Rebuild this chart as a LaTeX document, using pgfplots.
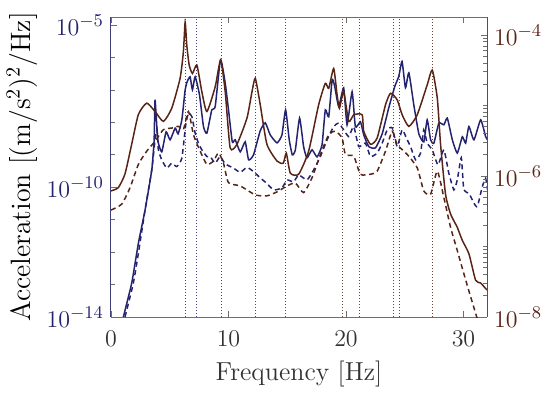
\documentclass[border=0pt]{standalone}
\usepackage{pgfplots}
\pgfplotsset{compat=1.18}
\definecolor{navy}{RGB}{35,35,112}
\definecolor{brn}{RGB}{88,36,22}
\definecolor{frm}{RGB}{110,110,110}
\definecolor{lbl}{RGB}{50,50,50}

\pgfplotstableread{
x y
0 6.15e-7
0.62 6.84e-7
1.19 1.07e-6
1.76 2.82e-6
2.33 7.46e-6
3.04 1.08e-5
3.75 8.22e-6
4.46 5.96e-6
5.17 9.16e-6
5.88 2.43e-5
6.16 5.77e-5
6.31 1.52e-4
6.45 7.16e-5
6.65 3.78e-5
6.93 2.85e-5
7.31 3.74e-5
7.73 1.57e-5
8.16 8.22e-6
8.87 1.85e-5
9.33 4.41e-5
9.72 1.57e-5
10.14 2.51e-6
10.72 2.82e-6
11.57 6.62e-6
12.00 1.57e-5
12.28 2.43e-5
12.70 1.03e-5
13.27 2.82e-6
14.13 1.63e-6
14.66 1.52e-6
14.92 2.11e-6
15.26 1.10e-6
15.97 1.06e-6
16.82 2.25e-6
17.67 1.02e-5
18.24 2.06e-5
18.53 1.75e-5
18.95 3.35e-5
19.24 1.42e-5
19.44 9.16e-6
19.80 1.57e-5
20.23 5.96e-6
20.66 7.39e-6
21.37 7.39e-6
21.51 4.31e-6
22.08 2.82e-6
22.65 3.46e-6
23.36 1.02e-5
23.79 1.49e-5
24.36 1.20e-5
24.78 7.39e-6
25.35 5.06e-6
26.06 7.39e-6
26.91 1.96e-5
27.34 3.18e-5
27.77 1.27e-5
28.05 2.79e-6
28.47 5.52e-7
28.90 2.89e-7
29.47 1.87e-7
29.90 1.22e-7
30.46 7.89e-8
31.03 3.32e-8
31.46 3.04e-8
31.88 2.54e-8
32.05 2.40e-8
}\brownsolid

\pgfplotstableread{
x y
0 3.29e-7
0.91 3.99e-7
1.62 6.84e-7
2.33 1.46e-6
3.04 2.25e-6
3.75 3.11e-6
4.46 4.55e-6
5.17 4.79e-6
5.74 5.06e-6
6.16 4.55e-6
6.59 8.22e-6
7.02 3.86e-6
7.59 2.25e-6
8.16 1.46e-6
8.72 1.63e-6
9.15 2.13e-6
9.57 1.52e-6
10.00 8.05e-7
11.00 7.23e-7
12.28 5.40e-7
13.27 5.23e-7
14.13 5.96e-7
14.98 7.23e-7
15.69 7.96e-7
16.39 5.82e-7
17.11 9.46e-7
17.82 2.02e-6
18.53 3.86e-6
19.10 4.31e-6
19.67 3.46e-6
19.95 2.02e-6
20.66 1.91e-6
21.23 1.06e-6
22.08 1.06e-6
22.65 1.17e-6
23.36 2.25e-6
23.93 4.31e-6
24.36 2.79e-6
25.21 2.02e-6
26.06 1.31e-6
26.62 6.15e-7
27.20 5.52e-7
27.77 1.17e-6
28.33 4.94e-7
28.90 1.87e-7
29.47 8.79e-8
30.03 4.12e-8
30.61 1.93e-8
31.03 1.13e-8
31.20 9.1e-9
}\browndashed

\pgfplotstableread{
x y
1.05 1.0e-14
1.76 1.10e-13
2.33 1.88e-12
2.90 2.00e-11
3.47 3.44e-10
3.67 2.90e-9
3.75 4.99e-8
3.98 2.90e-9
4.32 1.24e-9
4.69 5.13e-9
5.03 2.90e-9
5.46 6.67e-9
5.71 4.45e-9
6.03 1.20e-8
6.31 1.01e-7
6.48 1.79e-7
6.73 2.55e-7
6.93 1.01e-7
7.16 2.55e-7
7.53 7.11e-8
7.87 7.46e-9
8.16 4.68e-9
8.58 2.45e-8
8.87 3.10e-8
9.32 8.55e-7
9.72 1.63e-7
10.00 2.45e-8
10.32 2.52e-9
10.57 2.90e-9
11.00 1.24e-9
11.42 2.52e-9
11.71 7.02e-10
12.13 1.0e-9
12.70 5.51e-9
13.13 9.72e-9
13.55 4.14e-9
14.13 2.34e-9
14.55 4.14e-9
14.86 2.45e-8
15.17 2.90e-9
15.43 1.0e-9
15.69 1.43e-9
16.05 1.36e-8
16.39 1.80e-9
16.68 8.07e-10
17.11 1.43e-9
17.54 8.67e-10
17.96 2.04e-9
18.24 2.45e-8
18.53 1.49e-8
18.82 2.07e-7
19.04 1.28e-7
19.38 3.10e-8
19.80 1.17e-7
20.09 8.43e-9
20.52 8.79e-8
20.80 7.31e-9
21.23 1.04e-8
21.51 4.14e-9
21.94 1.80e-9
22.51 1.64e-9
23.08 4.45e-9
23.64 2.83e-8
24.15 1.28e-7
24.49 2.61e-7
24.77 7.59e-7
25.06 1.17e-7
25.35 3.40e-7
25.77 3.49e-8
26.20 4.45e-9
26.62 2.52e-9
26.91 1.20e-8
27.20 2.90e-9
27.48 2.30e-9
27.90 9.51e-9
28.33 8.43e-9
28.62 1.36e-8
29.05 2.90e-9
29.47 1.13e-9
29.90 3.60e-9
30.18 2.30e-9
30.46 7.46e-9
30.89 2.90e-9
31.46 1.20e-8
31.88 3.67e-9
32.05 2.90e-9
}\bluesolid

\pgfplotstableread{
x y
1.19 1.0e-14
1.90 1.10e-13
2.33 9.25e-13
2.90 2.00e-11
3.47 3.44e-10
3.75 2.90e-9
3.92 5.92e-9
4.03 1.43e-9
4.32 7.02e-10
4.75 3.89e-10
5.17 5.55e-10
5.60 4.35e-10
6.03 7.91e-10
6.36 8.43e-9
6.59 1.94e-8
6.88 1.52e-8
7.16 4.68e-9
7.44 2.30e-9
7.73 1.43e-9
8.16 8.87e-10
8.44 8.87e-10
8.87 5.55e-10
9.29 8.87e-10
9.72 5.27e-10
10.43 3.89e-10
11.00 2.88e-10
11.57 4.11e-10
12.13 3.05e-10
12.70 1.95e-10
13.21 1.37e-10
13.84 8.32e-11
14.55 9.57e-11
14.98 1.69e-10
15.54 1.47e-10
15.97 2.41e-10
16.68 1.69e-10
17.25 3.44e-10
17.82 8.87e-10
18.39 2.90e-9
18.95 7.46e-9
19.38 9.51e-9
19.80 5.92e-9
20.23 3.67e-9
20.66 7.46e-9
21.08 1.80e-9
21.65 2.30e-9
22.08 8.87e-10
22.65 1.13e-9
23.08 2.30e-9
23.51 5.92e-9
23.93 6.81e-9
24.36 1.80e-9
24.78 5.92e-9
25.21 2.90e-9
25.49 1.80e-9
25.92 7.02e-10
26.34 1.13e-9
26.62 5.92e-9
26.91 2.30e-9
27.34 1.43e-9
27.83 4.91e-10
28.33 1.43e-9
28.75 2.72e-10
29.18 8.32e-11
29.47 1.69e-10
29.81 8.07e-10
30.03 8.32e-11
30.46 6.58e-11
30.89 3.23e-11
31.18 2.54e-11
31.60 1.05e-10
31.88 1.91e-10
32.05 8.32e-11
}\bluedashed

\pgfplotsset{
  vl/.style={line width=0.5pt, dash pattern=on 0.7pt off 0.8pt, forget plot},
}

\begin{document}
\begin{tikzpicture}
\path[use as bounding box] (0,0) rectangle (275pt,196pt);
\begin{axis}[
  at={(55.5pt,37.5pt)}, anchor=south west,
  scale only axis, width=188pt, height=150pt,
  xmin=0, xmax=32,
  ymode=log, ymin=1e-14, ymax=1.778e-5,
  axis y line*=left,
  xtick={0,10,20,30},
  ytick={1e-14,1e-10,1e-5},
  minor ytick={1e-13,1e-12,1e-11,1e-9,1e-8,1e-7,1e-6},
  tick align=inside,
  major tick length=3pt, minor tick length=2pt,
  axis line style={frm, line width=0.5pt},
  y axis line style={navy!70!gray},
  every tick/.style={frm, line width=0.4pt},
  xticklabel style={font=\fontsize{12.5}{14}\selectfont, text=lbl, yshift=-3.5pt},
  yticklabel style={font=\fontsize{13}{15}\selectfont, text=navy},
  xlabel={Frequency [Hz]},
  ylabel={Acceleration [(m/s$^2$)$^2$/Hz]},
  xlabel style={at={(axis description cs:0.5,-0.19)}, anchor=center, font=\fontsize{13}{15}\selectfont, text=lbl},
  ylabel style={at={(axis description cs:-0.237,0.5)}, anchor=center, font=\fontsize{14}{16}\selectfont, text=black},
]
\addplot[navy!85!white, vl] coordinates {(6.31,1e-14) (6.31,1e-4)};
\addplot[navy!85!white, vl] coordinates {(7.25,1e-14) (7.25,1e-4)};
\addplot[navy!85!white, vl] coordinates {(9.38,1e-14) (9.38,1e-4)};
\addplot[navy!85!white, vl] coordinates {(14.83,1e-14) (14.83,1e-4)};
\addplot[navy!85!white, vl] coordinates {(24.04,1e-14) (24.04,1e-4)};
\addplot[navy!85!white, vl] coordinates {(24.55,1e-14) (24.55,1e-4)};
\addplot[navy, line width=0.75pt, smooth, tension=0.3] table[x=x,y=y] {\bluesolid};
\addplot[navy, line width=0.75pt, smooth, tension=0.3, dash pattern=on 2.5pt off 1.8pt] table[x=x,y=y] {\bluedashed};
\end{axis}
\begin{axis}[
  at={(55.5pt,37.5pt)}, anchor=south west,
  scale only axis, width=188pt, height=150pt,
  xmin=0, xmax=32,
  ymode=log, ymin=1e-8, ymax=1.8e-4,
  axis x line=none,
  axis y line*=right,
  ytick={1e-8,1e-6,1e-4},
  minor ytick={2e-8,3e-8,4e-8,5e-8,6e-8,7e-8,8e-8,9e-8,1e-7,2e-7,3e-7,4e-7,5e-7,6e-7,7e-7,8e-7,9e-7,2e-6,3e-6,4e-6,5e-6,6e-6,7e-6,8e-6,9e-6,1e-5,2e-5,3e-5,4e-5,5e-5,6e-5,7e-5,8e-5,9e-5},
  tick align=inside,
  major tick length=3pt, minor tick length=2pt,
  axis line style={brn!60!gray, line width=0.5pt},
  every tick/.style={frm, line width=0.4pt},
  yticklabel style={font=\fontsize{13}{15}\selectfont, text=brn},
]
\addplot[brn!85!white, vl] coordinates {(12.28,1e-8) (12.28,1e-3)};
\addplot[brn!85!white, vl] coordinates {(19.69,1e-8) (19.69,1e-3)};
\addplot[brn!85!white, vl] coordinates {(21.14,1e-8) (21.14,1e-3)};
\addplot[brn!85!white, vl] coordinates {(27.37,1e-8) (27.37,1e-3)};
\addplot[brn, line width=0.75pt, smooth, tension=0.35] table[x=x,y=y] {\brownsolid};
\addplot[brn, line width=0.75pt, smooth, tension=0.35, dash pattern=on 2.5pt off 1.8pt] table[x=x,y=y] {\browndashed};
\end{axis}
\end{tikzpicture}
\end{document}
